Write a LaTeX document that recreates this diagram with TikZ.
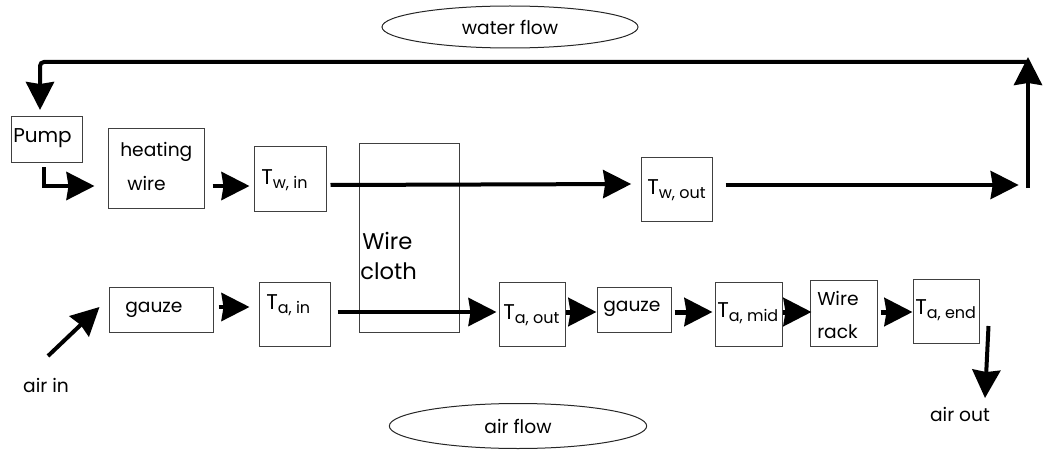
\documentclass[tikz,border=0pt]{standalone}
\usepackage{fontspec}
\setmainfont{Poppins}
\usetikzlibrary{arrows.meta,shapes.geometric,fit,calc}
\newcommand{\Tsub}[1]{T\raisebox{-3pt}{\fontsize{12}{12}\selectfont #1}}
\tikzset{
  box/.style={draw=black!75, line width=0.75pt, inner sep=0pt},
  flow/.style={line width=3pt, -{Stealth[length=21pt,width=21pt,inset=1.5pt]}},
  txt/.style={inner sep=0pt, anchor=west, font=\fontsize{14}{14}\selectfont},
  ttxt/.style={inner sep=0pt, anchor=west, font=\fontsize{16}{16}\selectfont},
  oval/.style={ellipse, draw=black!85, line width=0.75pt, inner sep=0pt, font=\fontsize{14}{14}\selectfont}
}
\begin{document}
\begin{tikzpicture}[x=0.75pt,y=-0.75pt]
\useasboundingbox (0,0) rectangle (1043,453);
% ellipses
\node[oval, minimum width=192pt, minimum height=31.5pt] (water) at (510,27) {water flow};
\node[oval, minimum width=193pt, minimum height=33.75pt] (air) at (518,426) {air flow};
% boxes
\node[box, fit={(11,117)(82,162)}] (pump) {};
\node[txt, font=\fontsize{15}{15}\selectfont] (pumpt) at (13,138) {Pump};
\node[box, fit={(108,129)(204,208)}] (heat) {};
\node[txt] (heat1) at (120,152) {heating};
\node[txt] (heat2) at (127,183) {wire};
\node[box, fit={(254,146)(326,211)}] (twin) {};
\node[ttxt] (twint) at (261,180) {\Tsub{w, in}};
\node[box, fit={(359,143)(459,332)}] (cloth) {};
\node[txt, font=\fontsize{17}{17}\selectfont] (cloth1) at (362,241) {Wire};
\node[txt, font=\fontsize{17}{17}\selectfont] (cloth2) at (360,271) {cloth};
\node[box, fit={(641,157)(712,221)}] (twout) {};
\node[ttxt] (twoutt) at (647,190) {\Tsub{w, out}};
\node[box, fit={(109,287)(213,332)}] (gauze1) {};
\node[txt] (gauze1t) at (125,310) {gauze};
\node[box, fit={(259,282)(330,346)}] (tain) {};
\node[ttxt] (taint) at (266,305) {\Tsub{a, in}};
\node[box, fit={(499,282)(565,346)}] (taout) {};
\node[ttxt] (taoutt) at (503,315) {\Tsub{a, out}};
\node[box, fit={(597,287)(671,332)}] (gauze2) {};
\node[txt] (gauze2t) at (603,309) {gauze};
\node[box, fit={(715,282)(782,346)}] (tamid) {};
\node[ttxt] (tamidt) at (717,313) {\Tsub{a, mid}};
\node[box, fit={(810,280)(877,346)}] (rack) {};
\node[txt] (rack1) at (817,298) {Wire};
\node[txt] (rack2) at (817,332) {rack};
\node[box, fit={(913,279)(979,343)}] (taend) {};
\node[ttxt] (taendt) at (915,310) {\Tsub{a, end}};
% labels
\node[txt, anchor=center] (airin) at (46,385) {air in};
\node[txt, anchor=center] (airout) at (960,414) {air out};
% free ends
\coordinate (rb) at (1028,188);
\coordinate (rt) at (1028,57);
\coordinate (tr) at (1028,62);
\coordinate (pin) at (40,110);
\coordinate (ain) at (48,356);
\coordinate (aout) at (985,398);
% water loop
\draw[flow] (rb) -- (rt);
\draw[flow, rounded corners=3pt] (tr) -- (40,62) -- (pin);
\draw[flow] ([xshift=-29pt]pump.south east |- 0,167) |- ([xshift=-9.75pt]heat.west |- 0,186);
\draw[flow] ([xshift=6pt]heat.east |- 0,186) -- ([xshift=-3pt]twin.west |- 0,186);
\draw[flow] ([xshift=3pt]twin.east |- 0,185) -- ([xshift=-7pt]twout.west |- 0,184);
\draw[flow] ([xshift=9.75pt]twout.east |- 0,185) -- ([xshift=-7pt]rb |- 0,185);
% air path
\draw[flow] (ain) -- ([xshift=-6.75pt]gauze1.west |- 0,307);
\draw[flow] ([xshift=3.75pt]gauze1.east |- 0,307) -- ([xshift=-6.75pt]tain.west |- 0,307);
\draw[flow] ([xshift=5.25pt]tain.east |- 0,312) -- ([xshift=-1.5pt]taout.west |- 0,312);
\draw[flow, line width=3.75pt] (taout.east |- 0,312) -- (gauze2.west |- 0,312);
\draw[flow, line width=3.75pt] ([xshift=2.25pt]gauze2.east |- 0,312) -- ([xshift=-1.5pt]tamid.west |- 0,312);
\draw[flow, line width=3.75pt] (tamid.east |- 0,312) -- ([xshift=1.5pt]rack.west |- 0,312);
\draw[flow, line width=3.75pt] ([xshift=2.25pt]rack.east |- 0,312) -- (taend.west |- 0,312);
\draw[flow] ([xshift=6.75pt]taend.south east |- 0,326) -- (aout);
\end{tikzpicture}
\end{document}
